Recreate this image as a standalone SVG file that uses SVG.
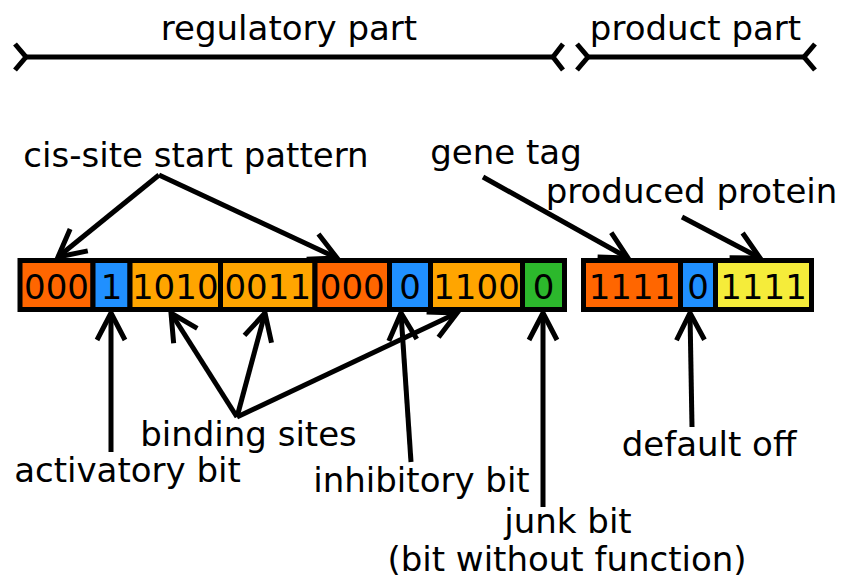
<svg xmlns="http://www.w3.org/2000/svg" width="843" height="583" viewBox="0 0 843 583">
<style>
.lbl{font-family:"DejaVu Sans",sans-serif;font-size:34px;fill:#000;text-anchor:middle}
.dig{font-family:"DejaVu Sans",sans-serif;font-size:34px;fill:#000;text-anchor:middle}
.cell{stroke:#000;stroke-width:5}
.o{fill:#ff6600}.b{fill:#2090ff}.l{fill:#ffa500}.g{fill:#2cb82c}.y{fill:#f5ec3a}
.con{stroke:#000;stroke-width:5;fill:none}
</style>
<defs>
<marker id="ah" markerUnits="userSpaceOnUse" orient="auto" markerWidth="60" markerHeight="60" refX="0" refY="0" viewBox="-35 -30 60 60" overflow="visible">
<path d="M-27,-14 L0,0 L-27,14" fill="none" stroke="#000" stroke-width="5"/>
</marker>
</defs>
<rect width="843" height="583" fill="#fff"/>
<g id="brackets" class="con">
<path d="M26,57 L553,57"/>
<path d="M15,44 L26,57 L15,70"/>
<path d="M563,44 L553,57 L563,70"/>
<path d="M588,57 L804,57"/>
<path d="M577,44 L588,57 L577,70"/>
<path d="M815,44 L804,57 L815,70"/>
</g>
<g id="regulatory-label"><text class="lbl" x="289" y="40">regulatory part</text></g>
<g id="product-label"><text class="lbl" x="695.5" y="40">product part</text></g>
<g id="c1"><rect class="cell o" x="20" y="260.5" width="73" height="49"/><text class="dig" x="56.5" y="299">000</text></g>
<g id="c2"><rect class="cell b" x="93" y="260.5" width="37" height="49"/><text class="dig" x="111.5" y="299">1</text></g>
<g id="c3"><rect class="cell l" x="130" y="260.5" width="90.5" height="49"/><text class="dig" x="175.25" y="299">1010</text></g>
<g id="c4"><rect class="cell l" x="220.5" y="260.5" width="94.5" height="49"/><text class="dig" x="267.75" y="299">0011</text></g>
<g id="c5"><rect class="cell o" x="315" y="260.5" width="74.5" height="49"/><text class="dig" x="352.25" y="299">000</text></g>
<g id="c6"><rect class="cell b" x="389.5" y="260.5" width="41" height="49"/><text class="dig" x="410" y="299">0</text></g>
<g id="c7"><rect class="cell l" x="430.5" y="260.5" width="92" height="49"/><text class="dig" x="476.5" y="299">1100</text></g>
<g id="c8"><rect class="cell g" x="522.5" y="260.5" width="42" height="49"/><text class="dig" x="543.5" y="299">0</text></g>
<g id="p1"><rect class="cell o" x="583.5" y="260.5" width="97" height="49"/><text class="dig" x="632" y="299">1111</text></g>
<g id="p2"><rect class="cell b" x="680.5" y="260.5" width="35" height="49"/><text class="dig" x="698" y="299">0</text></g>
<g id="p3"><rect class="cell y" x="715.5" y="260.5" width="96" height="49"/><text class="dig" x="763.5" y="299">1111</text></g>
<g id="connectors" class="con">
<path d="M159,175 L58,257" marker-end="url(#ah)"/>
<path d="M159,175 L337,258" marker-end="url(#ah)"/>
<path d="M483,177 L628,258" marker-end="url(#ah)"/>
<path d="M682,217 L760,258" marker-end="url(#ah)"/>
<path d="M111,452 L111,313" marker-end="url(#ah)"/>
<path d="M237,417 L171,313" marker-end="url(#ah)"/>
<path d="M237,417 L265,313" marker-end="url(#ah)"/>
<path d="M237,417 L457,313" marker-end="url(#ah)"/>
<path d="M411,462 L401,313" marker-end="url(#ah)"/>
<path d="M543,507 L543,313" marker-end="url(#ah)"/>
<path d="M692,427 L690,313" marker-end="url(#ah)"/>
</g>
<g id="cis-label"><text class="lbl" x="196" y="167">cis-site start pattern</text></g>
<g id="gene-tag-label"><text class="lbl" x="506" y="164">gene tag</text></g>
<g id="protein-label"><text class="lbl" x="691.5" y="203">produced protein</text></g>
<g id="binding-label"><text class="lbl" x="248.5" y="446">binding sites</text></g>
<g id="activatory-label"><text class="lbl" x="127.5" y="482">activatory bit</text></g>
<g id="inhibitory-label"><text class="lbl" x="421.5" y="492">inhibitory bit</text></g>
<g id="junk-label"><text class="lbl" x="568" y="533">junk bit</text><text class="lbl" x="567" y="571">(bit without function)</text></g>
<g id="default-label"><text class="lbl" x="709" y="456">default off</text></g>
</svg>
